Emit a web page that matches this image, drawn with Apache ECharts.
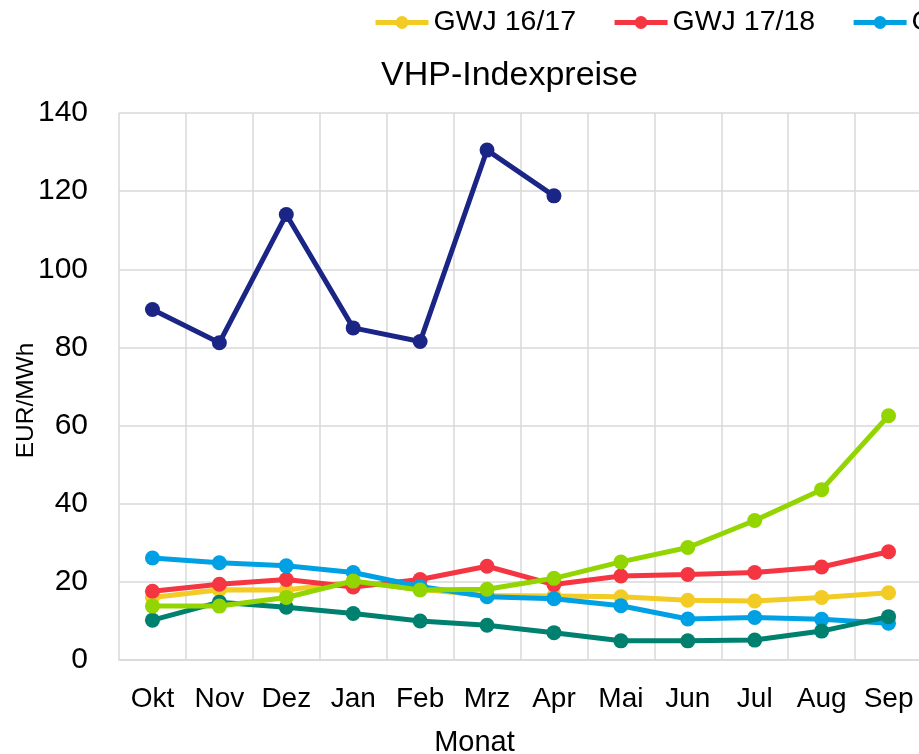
<!DOCTYPE html>
<html><head><meta charset="utf-8">
<script src="https://cdn.jsdelivr.net/npm/echarts@6/dist/echarts.min.js"></script>
<style>html,body{margin:0;padding:0;background:#fff}#c{width:919px;height:754px}</style>
</head><body><div id="c"></div>
<script>
const months = ['Okt','Nov','Dez','Jan','Feb','Mrz','Apr','Mai','Jun','Jul','Aug','Sep'];
const yTicks = [0,20,40,60,80,100,120,140];
const gwj1617 = [16.0,18.0,17.9,20.0,18.1,16.5,16.4,16.2,15.3,15.1,16.0,17.2];
const gwj1718 = [17.6,19.4,20.6,18.7,20.6,24.0,19.3,21.5,21.9,22.4,23.8,27.7];
const gwj1819 = [26.1,24.9,24.1,22.4,18.8,16.2,15.7,13.9,10.5,10.9,10.4,9.4];
const gwj1920 = [10.2,14.8,13.5,11.9,10.0,8.9,7.0,4.9,4.9,5.1,7.4,11.1];
const gwj2021 = [13.8,13.8,16.0,20.2,17.9,18.1,20.9,25.1,28.8,35.7,43.6,62.5];
const gwj2122 = [89.7,81.2,114.0,85.0,81.5,130.5,118.8,null,null,null,null,null];
const seriesNames = ['GWJ 16/17','GWJ 17/18','GWJ 18/19','GWJ 19/20','GWJ 20/21','GWJ 21/22'];
const seriesColors = ['#F2CB25','#F53542','#00A1E4','#00806F','#93D500','#1B2586'];
const seriesData = [gwj1617,gwj1718,gwj1819,gwj1920,gwj2021,gwj2122];

const chart = echarts.init(document.getElementById('c'), null, {renderer:'canvas'});
const FONT = 'Liberation Sans';
chart.setOption({
  animation:false,
  backgroundColor:'#fff',
  textStyle:{fontFamily:FONT},
  title:{text:'VHP-Indexpreise', left:376, top:54,
    textStyle:{fontFamily:FONT, fontSize:34, fontWeight:'normal', color:'#000'}},
  legend:{left:373, top:8, width:3000, padding:0, itemWidth:53, itemHeight:16, itemGap:36,
    lineStyle:{width:5},
    textStyle:{fontFamily:FONT, fontSize:28.5, color:'#000'},
    data:seriesNames},
  grid:{left:119, right:-3, top:113, bottom:94, containLabel:false, outerBoundsMode:'none'},
  xAxis:{type:'category', data:months, boundaryGap:true,
    name:'Monat', nameLocation:'middle', nameGap:68, nameMoveOverlap:false,
    nameTextStyle:{fontFamily:FONT, fontSize:29, color:'#000', padding:[0,92,0,0]},
    axisLine:{show:true, lineStyle:{color:'#D9D9D9', width:1.5}},
    axisTick:{show:false},
    axisLabel:{fontFamily:FONT, fontSize:28, color:'#000', margin:25, interval:0},
    splitLine:{show:true, lineStyle:{color:'#D9D9D9', width:1.5}}},
  yAxis:{type:'value', min:yTicks[0], max:yTicks[yTicks.length-1], interval:20,
    name:'EUR/MWh', nameLocation:'middle', nameRotate:90, nameGap:80, nameMoveOverlap:false,
    nameTextStyle:{fontFamily:FONT, fontSize:24.5, color:'#000', padding:[0,28,0,0]},
    axisLine:{show:false}, axisTick:{show:false},
    axisLabel:{fontFamily:FONT, fontSize:30, color:'#000', margin:31},
    splitLine:{show:true, lineStyle:{color:'#D9D9D9', width:1.5}}},
  series: seriesNames.map((n,i)=>({
    name:n, type:'line', data:seriesData[i],
    symbol:'circle', symbolSize:15, showSymbol:true,
    connectNulls:false,
    lineStyle:{width:5, color:seriesColors[i]},
    itemStyle:{color:seriesColors[i]},
    z:2+i
  }))
});
</script></body></html>
